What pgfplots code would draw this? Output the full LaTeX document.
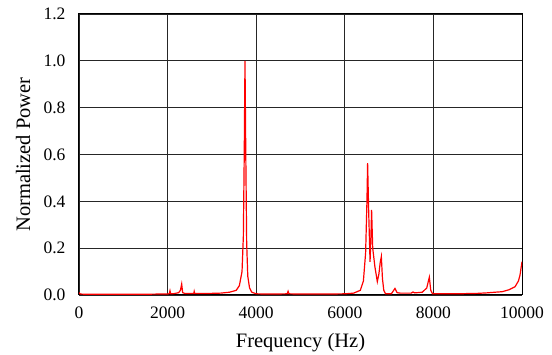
\documentclass[border=0pt]{standalone}
\usepackage{pgfplots}
\pgfplotsset{compat=1.18}
\usepackage{fontspec}
\setmainfont{Liberation Serif}
\begin{document}
\begin{tikzpicture}
\useasboundingbox (-79pt,-60pt) rectangle (473pt,295pt);
\begin{axis}[
  at={(0,0)}, anchor=south west,
  scale only axis, width=443pt, height=281pt,
  xmin=0, xmax=10000, ymin=0, ymax=1.2,
  xtick={0,2000,...,10000}, ytick={0,0.2,...,1.2},
  major tick length=0pt,
  grid=major,
  major grid style={black!85, line width=0.9pt},
  axis line style={black, line width=1pt},
  /pgf/number format/assume math mode=true,
  xticklabel style={font=\fontsize{17.5}{20}\selectfont, yshift=-8pt},
  yticklabel style={font=\fontsize{17.5}{20}\selectfont, xshift=-10pt, /pgf/number format/.cd, fixed, fixed zerofill, precision=1},
  scaled x ticks=false,
  xticklabel={\pgfmathprintnumber[fixed,precision=0,1000 sep={}]{\tick}},
  xlabel={Frequency (Hz)}, ylabel={Normalized Power},
  every axis x label/.style={at={(axis description cs:0.5,0)}, anchor=base, yshift=-53pt, font=\fontsize{20.5}{24}\selectfont},
  every axis y label/.style={at={(axis description cs:0,0.5)}, anchor=center, rotate=90, yshift=56pt, font=\fontsize{20.5}{24}\selectfont},
]
\addplot[red, line width=1.2pt] coordinates {
(0,0.010) (30,0.004) (200,0.003) (600,0.003) (1000,0.003) (1400,0.003) (1800,0.004)
(2000,0.004) (2040,0.006) (2054,0.018) (2070,0.005) (2150,0.006) (2250,0.010) (2290,0.020) (2318,0.047) (2340,0.010) (2400,0.006)
(2590,0.006) (2600,0.015) (2610,0.006) (2800,0.006) (3000,0.007) (3200,0.008) (3400,0.012) (3550,0.020) (3620,0.040) (3680,0.100)
(3710,0.250) (3730,0.600) (3747,1.000) (3765,0.600) (3785,0.220) (3810,0.080) (3850,0.030) (3900,0.012) (4000,0.005)
(4300,0.004) (4700,0.005) (4720,0.016) (4740,0.005) (5000,0.004) (5500,0.004) (6000,0.005) (6200,0.008) (6350,0.020)
(6420,0.060) (6470,0.180) (6500,0.400) (6515,0.563) (6540,0.350) (6570,0.142) (6590,0.250) (6605,0.363) (6630,0.200)
(6680,0.120) (6734,0.057) (6770,0.090) (6800,0.140) (6825,0.164) (6850,0.070) (6880,0.020) (6920,0.005) (7050,0.005)
(7133,0.028) (7180,0.010) (7250,0.008) (7500,0.008) (7540,0.013) (7580,0.009) (7750,0.012) (7850,0.030) (7908,0.076)
(7940,0.020) (7980,0.005) (8500,0.005) (9000,0.007) (9200,0.009) (9400,0.012) (9550,0.014) (9700,0.022) (9842,0.035)
(9920,0.060) (9955,0.085) (10000,0.142)
};
\end{axis}
\end{tikzpicture}
\end{document}
